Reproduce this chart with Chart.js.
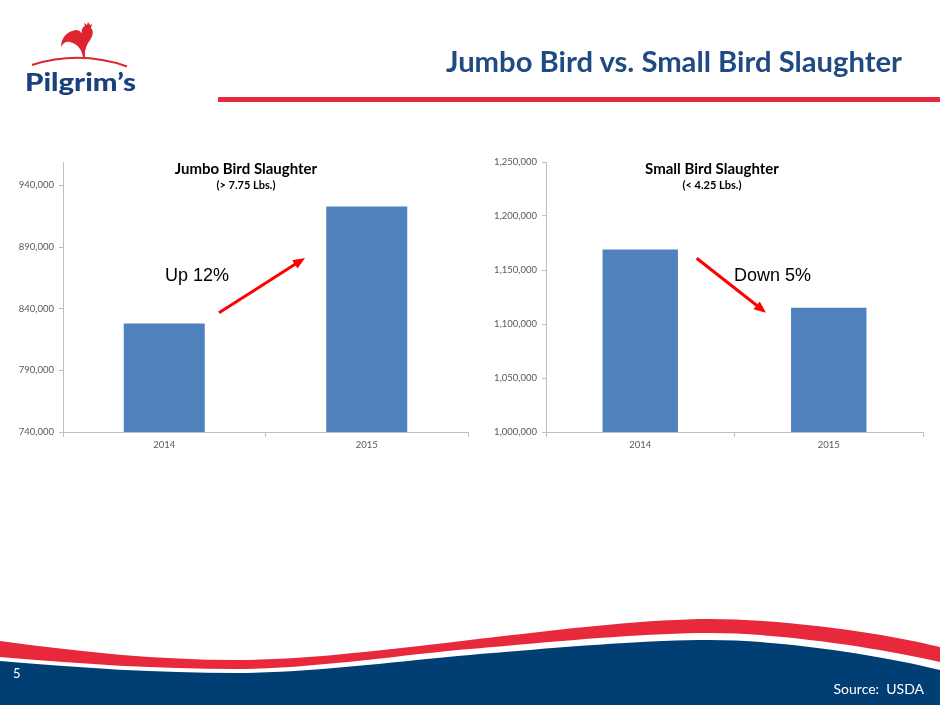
<!DOCTYPE html>
<html>
<head>
<meta charset="utf-8">
<script src="https://cdn.jsdelivr.net/npm/chart.js@4.4.0/dist/chart.umd.min.js"></script>
<style>
  html, body { margin: 0; padding: 0; background: #fff; }
  #slide { position: relative; width: 940px; height: 705px; overflow: hidden; background: #fff; }
  .box { position: absolute; top: 150px; height: 310px; }
  #jumboBox { left: 0; width: 475px; }
  #smallBox { left: 475px; width: 465px; }
  #overlay { position: absolute; left: 0; top: 0; pointer-events: none; }
</style>
</head>
<body>
<div id="slide">
  <div class="box" id="jumboBox"><canvas id="jumboChart"></canvas></div>
  <div class="box" id="smallBox"><canvas id="smallChart"></canvas></div>

  <svg id="overlay" width="940" height="705" viewBox="0 0 940 705">
    <!-- logo -->
    <path d="M83,57 C82,50 78,44 70,42 C66,41 63,43 61,47 C61,38 67,31 76,30 C80,30 82,33 83,36 Z" fill="#E02330"/>
    <path d="M82,36 C81,31 82,27 85,26 L84,23 L87,25 L88,22 L90,25 L92,24 L91,28 C94,31 93,36 90,40 C88,43 86,46 85,52 L85,58 L83,58 Z" fill="#E02330"/>
    <path d="M32,65 Q80,50 127,66.5" fill="none" stroke="#E02330" stroke-width="2"/>
    <text x="25" y="91" font-family="Lato" font-weight="900" font-size="25" fill="#1A407D"
          textLength="111" lengthAdjust="spacingAndGlyphs">Pilgrim’s</text>

    <!-- heading -->
    <text x="446" y="72" font-family="Lato" font-weight="bold" font-size="29" fill="#1F4A82"
          textLength="456" lengthAdjust="spacingAndGlyphs">Jumbo Bird vs. Small Bird Slaughter</text>
    <rect x="218" y="97" width="722" height="5" fill="#E8283B"/>

    <!-- chart titles -->
    <text x="246" y="174" text-anchor="middle" font-family="Lato" font-weight="bold" font-size="15" fill="#000">Jumbo Bird Slaughter</text>
    <text x="246" y="189" text-anchor="middle" font-family="Lato" font-weight="bold" font-size="11" fill="#000">(&gt; 7.75 Lbs.)</text>
    <text x="712" y="174" text-anchor="middle" font-family="Lato" font-weight="bold" font-size="15" fill="#000">Small Bird Slaughter</text>
    <text x="712" y="189" text-anchor="middle" font-family="Lato" font-weight="bold" font-size="11" fill="#000">(&lt; 4.25 Lbs.)</text>

    <!-- annotations -->
    <text x="165" y="281" font-family="Liberation Sans" font-size="18" fill="#000">Up 12%</text>
    <line x1="219" y1="312.7" x2="298.2" y2="262.3" stroke="#FF0000" stroke-width="3"/>
    <polygon points="305,258 297.6,268.6 292.2,260.2" fill="#FF0000"/>

    <text x="734" y="281" font-family="Liberation Sans" font-size="18" fill="#000">Down 5%</text>
    <line x1="696.7" y1="258.3" x2="759.7" y2="307.8" stroke="#FF0000" stroke-width="3"/>
    <polygon points="766,312.7 753.5,309.2 759.7,301.4" fill="#FF0000"/>

    <!-- footer wave -->
    <path d="M0,641 C80,652 160,660 235,660 S400,648 470,640 S640,619 710,619 S880,632 940,647 L940,705 L0,705 Z" fill="#E8283B"/>
    <path d="M0,657 C80,664 160,669 235,669 S400,655 470,649 S640,633 710,633 S880,648 940,662 L940,705 L0,705 Z" fill="#FFFFFF"/>
    <path d="M0,661 C80,668 160,673 235,673 S400,661 470,655 S640,640 710,640 S880,655 940,670 L940,705 L0,705 Z" fill="#003E73"/>
    <text x="13" y="678" font-family="Lato" font-size="13" fill="#FFFFFF">5</text>
    <text x="924" y="694" text-anchor="end" font-family="Lato" font-size="14" fill="#FFFFFF" xml:space="preserve">Source:  USDA</text>
  </svg>
</div>

<script>
// data
const years = ['2014', '2015'];
const jumboValues = [828000, 923000];
const smallValues = [1169000, 1115000];
const jumboTicks = [740000, 790000, 840000, 890000, 940000];
const smallTicks = [1000000, 1050000, 1100000, 1150000, 1200000, 1250000];

const axisGrey = '#BFBFBF';
const labelGrey = '#595959';
const barBlue = '#4F81BD';

function makeChart(canvasId, values, ticks, yMin, yMax, yWidth, padRight) {
  const ctx = document.getElementById(canvasId).getContext('2d');
  return new Chart(ctx, {
    type: 'bar',
    data: {
      labels: years,
      datasets: [{
        data: values,
        backgroundColor: barBlue,
        borderWidth: 0,
        barPercentage: 0.4,
        categoryPercentage: 1
      }]
    },
    options: {
      responsive: true,
      maintainAspectRatio: false,
      animation: false,
      layout: { padding: { top: 12, left: 0, right: padRight, bottom: 0 } },
      plugins: {
        legend: { display: false },
        tooltip: { enabled: false },
        title: { display: false }
      },
      scales: {
        x: {
          grid: { drawOnChartArea: false, drawTicks: true, tickLength: 5, color: axisGrey, offset: true },
          border: { display: true, color: axisGrey, width: 1 },
          ticks: { color: labelGrey, padding: 2, font: { family: 'Lato', size: 9.5 } },
          afterFit: (scale) => { scale.height = 28; }
        },
        y: {
          min: yMin,
          max: yMax,
          grid: { drawOnChartArea: false, drawTicks: true, tickLength: 4, color: axisGrey },
          border: { display: true, color: axisGrey, width: 1 },
          ticks: {
            color: labelGrey,
            padding: 5,
            font: { family: 'Lato', size: 9.5 },
            callback: (v) => v.toLocaleString('en-US')
          },
          afterBuildTicks: (scale) => { scale.ticks = ticks.map(v => ({ value: v })); },
          afterFit: (scale) => { scale.width = yWidth; }
        }
      }
    }
  });
}

makeChart('jumboChart', jumboValues, jumboTicks, 740000, 959000, 63, 7);
makeChart('smallChart', smallValues, smallTicks, 1000000, 1250000, 71, 17);
</script>
</body>
</html>
